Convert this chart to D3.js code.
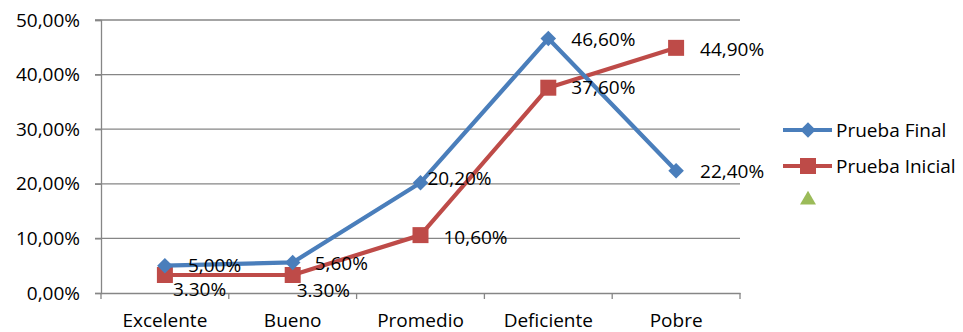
<!DOCTYPE html>
<meta charset="utf-8">
<script src="https://d3js.org/d3.v7.min.js"></script>
<style>
body { margin: 0; background: #fff; }
text { font-family: "Open Sans", sans-serif; fill: #000; }
</style>
<div id="chart"></div>
<script>

// data
var categories = ["Excelente", "Bueno", "Promedio", "Deficiente", "Pobre"];
var pruebaFinal = [5.0, 5.6, 20.2, 46.6, 22.4];
var pruebaInicial = [3.3, 3.3, 10.6, 37.6, 44.9];
var finalLabels = ["5,00%", "5,60%", "20,20%", "46,60%", "22,40%"];
var inicialLabels = ["3.30%", "3.30%", "10,60%", "37,60%", "44,90%"];
var yTicks = [0, 10, 20, 30, 40, 50];

// where Excel put each data label, relative to its point
var finalOffsets = [[23, 0], [22, 1], [7, -4], [23, 1], [24, 1]];
var inicialOffsets = [[8, 14], [4, 15], [23, 2], [23, 0], [24, 2]];

var width = 963, height = 332;
var blue = "#4a7ebb", red = "#be4b48", green = "#9bbb59", grid = "#868686";
var fontSize = "19px";

var svg = d3.select("#chart").append("svg")
  .attr("width", width)
  .attr("height", height);

var x = d3.scaleBand()
  .domain(categories)
  .range([101, 740]);

var y = d3.scaleLinear()
  .domain([0, 50])
  .range([293, 20]);

var fmt = function(d){ return d.toFixed(2).replace(".", ",") + "%"; };

// gridlines
svg.append("g")
  .selectAll("line")
  .data(yTicks.slice(1))
  .enter().append("line")
    .attr("x1", 95)
    .attr("x2", 740)
    .attr("y1", function(d){ return y(d); })
    .attr("y2", function(d){ return y(d); })
    .attr("stroke", grid)
    .attr("stroke-width", 1.3);

// y axis
var yAxis = svg.append("g")
  .attr("transform", "translate(101,0)")
  .call(d3.axisLeft(y).tickValues(yTicks).tickFormat(fmt).tickSize(6).tickPadding(15));
yAxis.selectAll("text").style("font-size", fontSize).attr("fill", "#000");
yAxis.selectAll("line").attr("stroke", grid).attr("stroke-width", 1.3);
yAxis.select(".domain").attr("stroke", grid).attr("stroke-width", 1.3);

// x axis
var xAxis = svg.append("g")
  .attr("transform", "translate(0,293)")
  .call(d3.axisBottom(x).tickSize(0).tickPadding(21));
xAxis.selectAll("text").style("font-size", fontSize).attr("fill", "#000");
xAxis.select(".domain").attr("stroke", grid).attr("stroke-width", 1.3);
xAxis.selectAll(".cut")
  .data(d3.range(categories.length + 1))
  .enter().append("line")
    .attr("class", "cut")
    .attr("x1", function(i){ return x.range()[0] + i * x.step(); })
    .attr("x2", function(i){ return x.range()[0] + i * x.step(); })
    .attr("y1", 0)
    .attr("y2", 6)
    .attr("stroke", grid)
    .attr("stroke-width", 1.3);

var cx = function(d, i){ return x(categories[i]) + x.bandwidth() / 2; };

var line = d3.line()
  .x(function(d, i){ return cx(d, i); })
  .y(function(d){ return y(d); });

// Excel diamond = square turned 45 degrees
var series = [
  {name: "Prueba Final", values: pruebaFinal, labels: finalLabels, offsets: finalOffsets, color: blue, size: 121, rotate: 45},
  {name: "Prueba Inicial", values: pruebaInicial, labels: inicialLabels, offsets: inicialOffsets, color: red, size: 256, rotate: 0}
];

// red drawn first so blue sits on top
series.slice().reverse().forEach(function(s){
  svg.append("path")
    .datum(s.values)
    .attr("d", line)
    .attr("fill", "none")
    .attr("stroke", s.color)
    .attr("stroke-width", 4.2)
    .attr("stroke-linejoin", "round");
  svg.append("g")
    .selectAll("path")
    .data(s.values)
    .enter().append("path")
      .attr("transform", function(d, i){ return "translate(" + cx(d, i) + "," + y(d) + ") rotate(" + s.rotate + ")"; })
      .attr("d", d3.symbol().type(d3.symbolSquare).size(s.size))
      .attr("fill", s.color);
});

series.forEach(function(s){
  svg.append("g")
    .selectAll("text")
    .data(s.values)
    .enter().append("text")
      .attr("x", function(d, i){ return cx(d, i) + s.offsets[i][0]; })
      .attr("y", function(d, i){ return y(d) + s.offsets[i][1]; })
      .attr("dy", "0.35em")
      .style("font-size", fontSize)
      .text(function(d, i){ return s.labels[i]; });
});

// legend
var legend = svg.append("g").attr("transform", "translate(783,130)");
series.forEach(function(s, i){
  var g = legend.append("g").attr("transform", "translate(0," + (i * 36) + ")");
  g.append("line")
    .attr("x1", 0).attr("x2", 49)
    .attr("stroke", s.color)
    .attr("stroke-width", 4.2);
  g.append("path")
    .attr("transform", "translate(25,0) rotate(" + s.rotate + ")")
    .attr("d", d3.symbol().type(d3.symbolSquare).size(s.size))
    .attr("fill", s.color);
  g.append("text")
    .attr("x", 53)
    .attr("dy", "0.35em")
    .style("font-size", fontSize)
    .text(s.name);
});
legend.append("path")
  .attr("transform", "translate(25,70)")
  .attr("d", d3.symbol().type(d3.symbolTriangle).size(110))
  .attr("fill", green);

</script>
